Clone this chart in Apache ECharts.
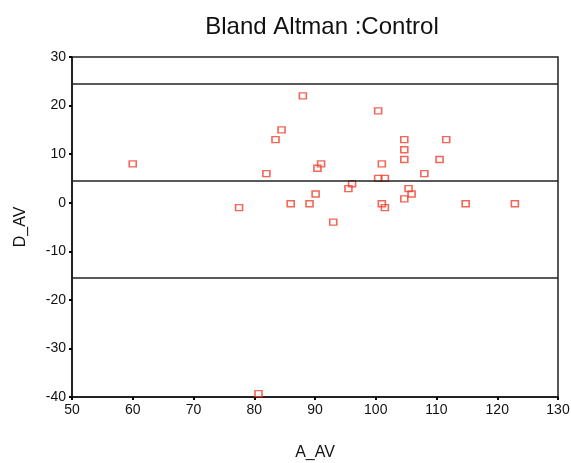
<!DOCTYPE html>
<html>
<head>
<meta charset="utf-8">
<script src="https://cdn.jsdelivr.net/npm/echarts@6/dist/echarts.min.js"></script>
<style>
  html, body { margin: 0; padding: 0; background: #fff; }
  #chart { width: 571px; height: 463px; }
</style>
</head>
<body>
<div id="chart"></div>
<script>
// mean of the two methods (A_AV)
const meanValues = [
  60, 88, 84.5, 83.5, 91, 90.4, 82, 95.5, 90.1, 86, 89.1, 77.5, 93,
  100.4, 104.7, 111.6, 104.7, 104.7, 110.5, 101, 108, 100.4, 101.5, 96.1,
  105.4, 105.9, 104.7, 101, 101.5, 114.8, 122.9, 80.7
]
// difference (D_AV)
const diffValues = [
  8, 22, 15, 13, 8, 7.1, 6, 2.9, 1.8, -0.2, -0.2, -1, -4,
  18.9, 13, 13, 10.9, 8.9, 8.9, 8, 6, 5, 5, 3.9,
  2.9, 1.8, 0.8, -0.2, -1, -0.2, -0.2, -39.3
]
// upper limit, mean difference, lower limit
const limitLines = [24.5, 4.5, -15.5]

const xTicks = { min: 50, max: 130, step: 10 }
const yTicks = { min: -40, max: 30, step: 10 }

const points = meanValues.map((x, i) => [x, diffValues[i]])

const chart = echarts.init(document.getElementById('chart'), null, { renderer: 'canvas' })

const font = 'Liberation Sans, Arial, sans-serif'
const axisText = { color: '#111', fontSize: 14, fontFamily: font }

const option = {
  backgroundColor: '#fff',
  animation: false,
  title: {
    text: 'Bland Altman :Control',
    left: 317,
    textAlign: 'center',
    top: 10,
    textStyle: {
      color: '#111',
      fontSize: 24,
      fontWeight: 'normal',
      fontFamily: font
    }
  },
  grid: {
    left: 72,
    right: 13,
    top: 57,
    bottom: 66,
    outerBoundsMode: 'none',
    containLabel: false,
    show: true,
    borderColor: '#222',
    borderWidth: 1.5,
    backgroundColor: 'transparent'
  },
  xAxis: {
    type: 'value',
    min: xTicks.min,
    max: xTicks.max,
    interval: xTicks.step,
    name: 'A_AV',
    nameLocation: 'middle',
    nameGap: 48,
    nameTextStyle: { color: '#111', fontSize: 16, fontFamily: font },
    axisLine: { show: true, onZero: false, lineStyle: { color: '#111', width: 1.5 } },
    axisTick: { show: true, length: 3, lineStyle: { color: '#000', width: 2 } },
    axisLabel: Object.assign({ margin: 6 }, axisText),
    splitLine: { show: false }
  },
  yAxis: {
    type: 'value',
    min: yTicks.min,
    max: yTicks.max,
    interval: yTicks.step,
    name: 'D_AV',
    nameLocation: 'middle',
    nameGap: 43,
    nameRotate: 90,
    nameTextStyle: { color: '#111', fontSize: 16, fontFamily: font },
    axisLine: { show: true, onZero: false, lineStyle: { color: '#111', width: 1.5 } },
    axisTick: { show: true, length: 3, lineStyle: { color: '#000', width: 2 } },
    axisLabel: Object.assign({ margin: 6 }, axisText),
    splitLine: { show: false }
  },
  series: [
    {
      type: 'scatter',
      data: points,
      symbol: 'rect',
      symbolSize: [7, 6],
      itemStyle: {
        color: 'rgba(0,0,0,0)',
        borderColor: '#f0402e',
        borderWidth: 1.5
      },
      markLine: {
        silent: true,
        symbol: ['none', 'none'],
        label: { show: false },
        lineStyle: { color: '#222', width: 1.5, type: 'solid' },
        data: limitLines.map(v => ({ yAxis: v }))
      }
    }
  ]
}

chart.setOption(option)
</script>
</body>
</html>
